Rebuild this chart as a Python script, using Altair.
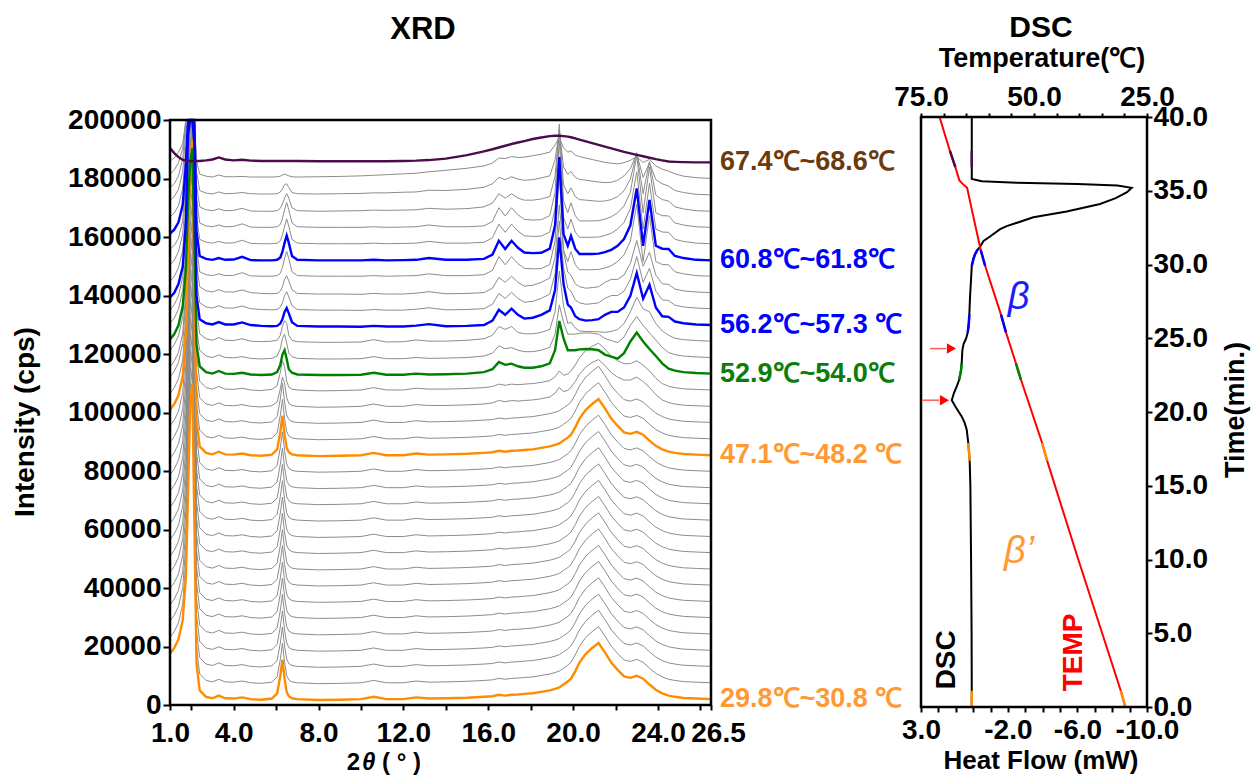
import altair as alt
import pandas as pd

FONT = "Liberation Sans"

# ---------------- XRD data (2theta grid, profiles in k cps above each scan's baseline) -------------
TWO_THETA = [1.0, 1.2, 1.4, 1.6, 1.75, 1.85, 1.95, 2.05, 2.15, 2.25,
             2.4, 2.7, 3.0, 3.3, 3.6, 4.0, 4.4, 4.8, 5.3, 5.8,
             6.05, 6.2, 6.3, 6.4, 6.5, 6.6, 6.75, 7.0, 8.0, 9.0,
             10.0, 10.6, 11.2, 12.0, 12.6, 13.2, 14.0, 15.0, 15.8, 16.2,
             16.5, 16.8, 17.1, 17.4, 17.7, 18.1, 18.5, 18.9, 19.15, 19.35,
             19.55, 19.75, 19.9, 20.1, 20.3, 20.6, 20.9, 21.2, 21.5, 21.8,
             22.1, 22.4, 22.7, 23.0, 23.3, 23.6, 23.9, 24.2, 24.5, 24.8,
             25.2, 25.8, 26.5]

PROFILE_BETA_PRIME = [
    15.5, 17.5, 20.5, 27, 42, 70, 100, 108, 60, 12,
    3, 0.8, 0.3, 1.2, 0.3, 0.2, 0.6, 0, -0.2, 0.2,
    2, 8, 13.5, 7, 2.5, 1, 0.3, 0, -0.3, -0.2,
    0, 0.8, 0, 0, 0.6, 0.2, 0.3, 0.5, 0.8, 1.0,
    1.5, 1.2, 1.5, 1.6, 1.8, 2.0, 2.5, 3.0, 3.5, 4.0,
    5.0, 6.0, 7.0, 9.5, 12.5, 15.5, 17.5, 19.2, 16.0, 12.5,
    10.0, 7.8, 7.3, 8.0, 7.0, 5.0, 3.2, 2.0, 1.2, 0.8,
    0.4, 0.2, 0]
PROFILE_TRANSITION = [
    13.5, 15.5, 18.5, 25, 40, 70, 100, 110, 62, 12,
    3, 0.8, 0.3, 1.2, 0.3, 0.2, 0.6, 0, -0.2, 0.2,
    1.5, 6, 10, 8, 3, 1, 0.3, 0, -0.3, -0.2,
    0, 0.8, 0, 0, 0.6, 0.3, 0.3, 0.5, 0.8, 1.2,
    2.0, 1.6, 2.0, 1.8, 2.0, 2.2, 2.6, 3.2, 4.5, 6.5,
    5.0, 5.5, 6.5, 8.5, 11, 13.5, 15, 16, 14, 11.5,
    10, 9, 9, 10, 8.5, 6.5, 4, 2.2, 1.3, 0.8,
    0.4, 0.2, 0]
PROFILE_MIXED = [
    11.7, 13.5, 16.5, 23, 36, 58, 72, 77, 45, 10,
    2.5, 0.5, 0, 0.9, 0, -0.1, 0.3, -0.3, -0.5, -0.3,
    0.5, 3, 6.5, 8, 5, 1.5, 0.3, -0.3, -0.5, -0.5,
    -0.4, 0.3, -0.4, -0.4, 0, -0.3, -0.2, 0, 0.5, 1.5,
    4.0, 3.0, 3.4, 2.5, 2.0, 2.0, 2.5, 3.5, 8, 18,
    12, 8, 8, 8, 8.3, 8.4, 8.3, 8.0, 6.5, 5.8,
    5.1, 7, 11, 14, 11, 8.4, 6, 3.5, 1.7, 1.0,
    0.5, 0.2, 0]
PROFILE_MID = [
    10.5, 12.5, 15.5, 22, 37, 65, 95, 105, 60, 11,
    2.5, 0.8, 0.3, 1.2, 0.3, 0.2, 0.8, 0, -0.2, 0,
    0.3, 2, 5, 7, 6, 2, 0.3, -0.2, -0.4, -0.4,
    -0.3, 0.5, -0.3, -0.2, 0.4, 0, 0, 0.3, 0.8, 2,
    5, 4, 5, 3, 2.5, 2.5, 3, 4, 10, 24,
    12, 6, 6.5, 4.5, 3.5, 3.3, 3.3, 3.2, 3, 3.3,
    4, 6, 10, 15, 11, 10, 6, 3.5, 2, 1,
    0.5, 0.2, 0]
PROFILE_BETA_A = [
    9.4, 11, 14, 20, 35, 65, 95, 110, 62, 10,
    2, 0.6, 0.2, 1.0, 0.2, 0.2, 0.9, 0, -0.3, -0.4,
    -0.3, 0.5, 2, 4.5, 5.8, 4, 1, -0.3, -0.5, -0.5,
    -0.6, -0.3, -0.5, -0.5, -0.2, 0.3, -0.4, -0.3, 0, 1.5,
    5.2, 3.5, 5.6, 3.5, 2.2, 2.5, 3.5, 5, 12, 30,
    14, 7, 6, 3, 2, 1.5, 1.7, 2, 3.5, 4.5,
    4.5, 6, 10, 17.8, 9, 13.8, 6, 3, 2.8, 1.2,
    0.6, 0.2, 0]
PROFILE_BETA_B = [
    9.2, 10.5, 13, 19, 33, 62, 92, 110, 62, 10,
    1.5, 0.5, 0.2, 0.8, 0.2, 0.3, 1.2, 0.1, 0, 0,
    0.2, 1, 3, 6, 8.5, 6, 1.5, 0.2, 0, 0,
    0, 0.2, 0, 0.1, 0.2, 0.8, 0.2, 0.2, 0.5, 2,
    6.7, 3.9, 6.7, 4.3, 2.7, 2.5, 2.6, 4, 12, 35.3,
    9, 5, 8.4, 4, 2.2, 2.2, 2.2, 2.3, 2.8, 3.6,
    5, 7.3, 12, 24.6, 5, 20.7, 5, 4, 3.9, 1.5,
    0.8, 0.2, 0]
PROFILE_BETA_C = [
    8, 9.5, 12, 18, 32, 60, 90, 110, 60, 9,
    1.5, 0.5, 0.2, 0.8, 0.2, 0.3, 1, 0.1, 0, 0,
    0.2, 1, 2.5, 4.5, 6, 4.5, 1.2, 0.2, 0, 0.1,
    0.2, 0.4, 0.3, 0.4, 0.5, 1.0, 0.7, 0.9, 1.5, 2.8,
    6, 4.5, 6, 4.5, 3.8, 3.8, 4.2, 5, 12, 28,
    9, 6, 8, 5, 4, 3.8, 3.6, 3.4, 3.5, 4,
    5, 7, 11, 20, 6, 17, 5.5, 4, 3.5, 1.5,
    0.8, 0.2, 0]
PROFILE_BETA_D = [
    7, 8.5, 11, 16, 28, 52, 80, 95, 52, 8,
    1.5, 0.6, 0.3, 1.0, 0.4, 0.5, 0.8, 0.4, 0.3, 0.3,
    0.4, 1, 2, 3.5, 3.8, 2.5, 0.8, 0.4, 0.3, 0.4,
    0.5, 0.7, 0.7, 0.9, 1.0, 1.6, 1.5, 1.9, 2.6, 3.8,
    6, 5.2, 6.2, 5.4, 5, 5.2, 5.8, 6.5, 12, 22,
    9.5, 7, 8, 6, 5.3, 5, 4.7, 4.4, 4.2, 4.3,
    5, 6.5, 9, 14, 6, 11, 5.2, 3.8, 3, 1.5,
    0.8, 0.2, 0]
PROFILE_BETA_E = [
    6, 7, 9, 12, 20, 38, 60, 72, 40, 6,
    1.5, 0.8, 0.5, 1.2, 0.6, 0.6, 0.7, 0.5, 0.5, 0.5,
    0.6, 0.8, 1.2, 1.5, 1.2, 0.9, 0.6, 0.5, 0.6, 0.7,
    0.9, 1.1, 1.3, 1.6, 1.8, 2.3, 2.8, 3.5, 4.3, 5.3,
    7, 6.8, 7.5, 7.2, 7.3, 7.8, 8.3, 9, 11.5, 14,
    10.5, 9, 9.5, 8, 7.5, 7, 6.5, 6, 5.5, 5.2,
    5, 5.4, 6.2, 7.5, 5.5, 6.5, 4.3, 3.2, 2.5, 1.6,
    0.8, 0.3, 0]
PROFILE_MELT = [
    4.9, 3.2, 1.8, 0.9, 0.6, 0.5, 0.5, 0.5, 0.5, 0.5,
    0.5, 0.7, 1.0, 1.7, 1.0, 0.7, 0.9, 0.6, 0.5, 0.5,
    0.5, 0.5, 0.5, 0.5, 0.5, 0.5, 0.5, 0.5, 0.4, 0.4,
    0.4, 0.4, 0.4, 0.5, 0.6, 0.8, 1.3, 2.5, 3.8, 4.5,
    5.1, 5.7, 6.3, 6.8, 7.3, 8, 8.5, 9, 9.1, 9.1,
    9, 8.8, 8.6, 8.2, 7.8, 7.2, 6.6, 6, 5.4, 4.8,
    4.2, 3.6, 3.1, 2.6, 2.1, 1.6, 1.1, 0.7, 0.3, 0.2,
    0.1, 0, 0]

PROFILES = {
    "beta_prime": PROFILE_BETA_PRIME, "transition": PROFILE_TRANSITION, "mixed": PROFILE_MIXED,
    "mid": PROFILE_MID, "beta_a": PROFILE_BETA_A, "beta_b": PROFILE_BETA_B, "beta_c": PROFILE_BETA_C,
    "beta_d": PROFILE_BETA_D, "beta_e": PROFILE_BETA_E, "melt": PROFILE_MELT,
}
for _k, _v in PROFILES.items():
    assert len(_v) == len(TWO_THETA), (_k, len(_v))

# baseline (k cps) of each of the 34 stacked scans, bottom to top
BASELINE_K = [2.0, 7.6, 13.2, 18.7, 24.3, 29.9, 35.4, 41.0, 46.5, 52.1,
              57.6, 63.2, 68.8, 74.3, 79.9, 85.4, 91.0, 96.6, 102.1, 107.7,
              113.3, 118.8, 124.4, 129.9, 135.5, 141.0, 146.6, 152.0, 157.7, 163.3,
              168.8, 174.4, 180.0, 185.5]
SCAN_PROFILE = (["beta_prime"] * 18 + ["transition"] * 2 + ["mixed"] * 2 + ["mid"]
                + ["beta_a"] * 3 + ["beta_b"] * 4 + ["beta_c", "beta_d", "beta_e", "melt"])
assert len(SCAN_PROFILE) == len(BASELINE_K)

ORANGE, GREEN, BLUE, PURPLE = "#FF8C00", "#008000", "#0000FF", "#4B0C4B"
HIGHLIGHT = {0: ORANGE, 15: ORANGE, 20: GREEN, 23: BLUE, 27: BLUE, 33: PURPLE}

LABEL_SCANS = [33, 27, 23, 20, 15, 0]
LABEL_TEXT = ["67.4℃~68.6℃", "60.8℃~61.8℃", "56.2℃~57.3 ℃", "52.9℃~54.0℃", "47.1℃~48.2 ℃", "29.8℃~30.8 ℃"]
LABEL_COLOR = ["#6B3A0C", "#0000FF", "#0000FF", "#0A7D0A", "#FF9933", "#FF9933"]

# ---------------- DSC data -----------------
DSC_TIME = [0.0, 1.1, 5.0, 10.0, 15.0, 16.7, 17.9, 18.8, 19.3, 19.7,
            20.1, 20.4, 20.8, 21.3, 21.8, 22.2, 22.8, 23.3, 24.2, 24.6,
            25.0, 25.4, 26.0, 26.6, 27.8, 29.0, 29.9, 30.4, 30.7, 31.0,
            31.2, 31.6, 31.9, 32.4, 32.6, 32.9, 33.2, 33.6, 34.1, 34.5,
            34.9, 35.2, 35.35, 35.45, 35.55, 35.65, 35.8, 36.6, 37.7, 40.0]
DSC_HEAT_FLOW = [0.08, 0.08, 0.09, 0.12, 0.16, 0.20, 0.28, 0.37, 0.50, 0.66,
                 0.88, 1.04, 1.23, 1.10, 0.92, 0.80, 0.70, 0.66, 0.62, 0.55,
                 0.40, 0.31, 0.25, 0.22, 0.18, 0.12, 0.08, -0.02, -0.11, -0.25,
                 -0.39, -0.60, -0.97, -1.55, -1.93, -2.70, -3.46, -5.38, -7.30, -8.20,
                 -8.85, -9.12, -8.30, -6.00, -2.50, -0.50, 0.08, 0.08, 0.08, 0.08]
TEMP_TIME = [0.0, 1.1, 10.0, 16.7, 17.9, 22.2, 23.3, 25.4, 26.6, 29.9,
             31.0, 31.7, 33.5, 35.2, 35.5, 35.7, 36.6, 37.7, 40.0]
TEMP_C = [29.8, 30.8, 40.2, 47.1, 48.2, 52.9, 54.0, 56.2, 57.3, 60.8,
          61.8, 62.3, 63.6, 64.8, 65.9, 66.5, 67.4, 68.6, 70.9]
SEGMENTS = [(0.0, 1.1, ORANGE), (16.7, 17.9, ORANGE), (22.2, 23.3, GREEN),
            (25.4, 26.6, BLUE), (29.9, 31.0, BLUE), (36.6, 37.7, PURPLE)]

# ---------------- tables -----------------
rows = []
for i, (base, prof) in enumerate(zip(BASELINE_K, SCAN_PROFILE)):
    for x, v in zip(TWO_THETA, PROFILES[prof]):
        rows.append({"scan": i, "tt": x, "cps": (base + v) * 1000.0, "col": HIGHLIGHT.get(i, "gray")})
xrd = pd.DataFrame(rows)
xrd_gray = xrd[xrd["col"] == "gray"]
xrd_hl = xrd[xrd["col"] != "gray"]

xrd_labels = pd.DataFrame({
    "tt": [26.5] * len(LABEL_SCANS),
    "cps": [BASELINE_K[i] * 1000.0 for i in LABEL_SCANS],
    "text": LABEL_TEXT, "col": LABEL_COLOR})

dsc = pd.DataFrame({"t": DSC_TIME, "hf": DSC_HEAT_FLOW})
temp = pd.DataFrame({"t": TEMP_TIME, "T": TEMP_C})
dsc_seg_rows, temp_seg_rows = [], []
for k, (a, b, c) in enumerate(SEGMENTS):
    for t, h in zip(DSC_TIME, DSC_HEAT_FLOW):
        if a <= t <= b:
            dsc_seg_rows.append({"seg": k, "t": t, "hf": h, "col": c})
    for t, T in zip(TEMP_TIME, TEMP_C):
        if a <= t <= b:
            temp_seg_rows.append({"seg": k, "t": t, "T": T, "col": c})
dsc_seg = pd.DataFrame(dsc_seg_rows)
temp_seg = pd.DataFrame(temp_seg_rows)

# ---------------- geometry (chart coordinates, page offset 8px) -----------------
W, H = 1244, 767
XS = alt.Scale(domain=[1, 26.5], range=[162, 703], nice=False, zero=False)
YS = alt.Scale(domain=[0, 200000], range=[697, 112], nice=False, zero=False, clamp=True)
HFS = alt.Scale(domain=[-10, 3], range=[1139, 913], nice=False, zero=False)
TS = alt.Scale(domain=[0, 40], range=[699, 109], nice=False, zero=False)
TEMPS = alt.Scale(domain=[25, 75], range=[1139, 913], nice=False, zero=False)


def make_axis(orient, offset, values, tick_size, label_padding, label_expr=None, fmt=None, label_offset=None):
    kw = dict(orient=orient, offset=offset, values=values, title=None, grid=False, domain=False,
              ticks=True, tickSize=tick_size, tickWidth=2, tickColor="black",
              labelFont=FONT, labelFontSize=28, labelFontWeight="bold", labelColor="black",
              labelPadding=label_padding, labelOverlap=False, labelFlush=False, labelBound=False)
    if label_expr:
        kw["labelExpr"] = label_expr
    if fmt:
        kw["format"] = fmt
    if label_offset is not None:
        kw["labelOffset"] = label_offset
    return alt.Axis(**kw)


xrd_x_axis = make_axis("bottom", 697 - H, [1] + list(range(2, 27, 2)) + [26.5], 5, 9,
                       label_expr="(datum.value == 1 || datum.value == 26.5 || datum.value % 4 == 0) ? format(datum.value, '.1f') : ''",
                       label_offset={"condition": {"test": "datum.value == 26.5", "value": 7}, "value": 0})
xrd_y_axis = make_axis("left", -162, list(range(0, 200001, 20000)), 7, 2, fmt="d")
hf_axis = make_axis("bottom", 699 - H, list(range(-10, 4)), 5, 4,
                    label_expr="(datum.value == 3 || datum.value == -2 || datum.value == -6 || datum.value == -10) ? (datum.value < 0 ? '-' + format(-datum.value, '.1f') : format(datum.value, '.1f')) : ''")
time_axis = make_axis("right", 1139 - W, list(range(0, 41, 5)), 5, 1, fmt=".1f")
temp_axis = make_axis("top", -109, list(range(25, 76, 5)), 4, 2,
                      label_expr="datum.value % 25 == 0 ? format(datum.value, '.1f') : ''")

layers = []

# XRD gray scans
layers.append(alt.Chart(xrd_gray).mark_line(color="#8C8C8C", strokeWidth=1).encode(
    x=alt.X("tt:Q", scale=XS, axis=xrd_x_axis),
    y=alt.Y("cps:Q", scale=YS, axis=xrd_y_axis),
    detail="scan:N"))
# XRD highlighted scans
layers.append(alt.Chart(xrd_hl).mark_line(strokeWidth=2.4).encode(
    x=alt.X("tt:Q", scale=XS, axis=None),
    y=alt.Y("cps:Q", scale=YS, axis=None),
    detail="scan:N", color=alt.Color("col:N", scale=None)))
# XRD frame
xrd_frame = pd.DataFrame({"x1": [1.0], "x2": [26.5], "y1": [0.0], "y2": [200000.0]})
layers.append(alt.Chart(xrd_frame).mark_rect(filled=False, fillOpacity=0, stroke="black", strokeWidth=2.5).encode(
    x=alt.X("x1:Q", scale=XS, axis=None), x2="x2:Q",
    y=alt.Y("y1:Q", scale=YS, axis=None), y2="y2:Q"))
# XRD temperature labels
layers.append(alt.Chart(xrd_labels).mark_text(align="left", baseline="middle", dx=9, font=FONT,
                                               fontSize=27, fontWeight="bold").encode(
    x=alt.X("tt:Q", scale=XS, axis=None),
    y=alt.Y("cps:Q", scale=YS, axis=None),
    text="text:N", color=alt.Color("col:N", scale=None)))

# DSC curve
layers.append(alt.Chart(dsc).mark_line(color="black", strokeWidth=2).encode(
    x=alt.X("hf:Q", scale=HFS, axis=hf_axis),
    y=alt.Y("t:Q", scale=TS, axis=time_axis),
    order="t:Q"))
# TEMP line
layers.append(alt.Chart(temp).mark_line(color="#FF0000", strokeWidth=2).encode(
    x=alt.X("T:Q", scale=TEMPS, axis=temp_axis),
    y=alt.Y("t:Q", scale=TS, axis=None),
    order="t:Q"))
# coloured segments matching the highlighted scans
layers.append(alt.Chart(dsc_seg).mark_line(strokeWidth=2.5).encode(
    x=alt.X("hf:Q", scale=HFS, axis=None), y=alt.Y("t:Q", scale=TS, axis=None),
    order="t:Q", detail="seg:N", color=alt.Color("col:N", scale=None)))
layers.append(alt.Chart(temp_seg).mark_line(strokeWidth=2.5).encode(
    x=alt.X("T:Q", scale=TEMPS, axis=None), y=alt.Y("t:Q", scale=TS, axis=None),
    order="t:Q", detail="seg:N", color=alt.Color("col:N", scale=None)))
# DSC frame
dsc_frame = pd.DataFrame({"x1": [3.0], "x2": [-10.0], "y1": [0.0], "y2": [40.0]})
layers.append(alt.Chart(dsc_frame).mark_rect(filled=False, fillOpacity=0, stroke="black", strokeWidth=2.5).encode(
    x=alt.X("x1:Q", scale=HFS, axis=None), x2="x2:Q",
    y=alt.Y("y1:Q", scale=TS, axis=None), y2="y2:Q"))

# red arrows (shaft + head)
ARROW_T = [24.3, 20.8]
ARROW_FROM = [2.48, 2.96]
ARROW_TO = [1.55, 1.95]
ARROW_HEAD = [1.25, 1.65]
arrows = pd.DataFrame({"t": ARROW_T, "h1": ARROW_FROM, "h2": ARROW_TO, "hh": ARROW_HEAD})
layers.append(alt.Chart(arrows).mark_rule(color="#FF5A5A", strokeWidth=1.5).encode(
    x=alt.X("h1:Q", scale=HFS, axis=None), x2="h2:Q",
    y=alt.Y("t:Q", scale=TS, axis=None)))
layers.append(alt.Chart(arrows).mark_point(shape="triangle-right", filled=True, color="#FF0000",
                                           size=110, opacity=1).encode(
    x=alt.X("hh:Q", scale=HFS, axis=None), y=alt.Y("t:Q", scale=TS, axis=None)))

# phase annotations
phase = pd.DataFrame({"hf": [-2.61, -2.64], "t": [27.75, 10.5], "text": ["β", "β’"],
                      "col": ["#1A1AFF", "#FF9933"]})
layers.append(alt.Chart(phase).mark_text(font=FONT, fontStyle="italic", fontSize=38,
                                         align="center", baseline="middle").encode(
    x=alt.X("hf:Q", scale=HFS, axis=None), y=alt.Y("t:Q", scale=TS, axis=None),
    text="text:N", color=alt.Color("col:N", scale=None)))
curve_names = pd.DataFrame({"hf": [1.52, -5.8], "t": [3.2, 3.7], "text": ["DSC", "TEMP"],
                            "col": ["black", "#FF0000"]})
layers.append(alt.Chart(curve_names).mark_text(font=FONT, fontWeight="bold", fontSize=28, angle=270,
                                               align="center", baseline="middle").encode(
    x=alt.X("hf:Q", scale=HFS, axis=None), y=alt.Y("t:Q", scale=TS, axis=None),
    text="text:N", color=alt.Color("col:N", scale=None)))


# titles and axis titles
def free_text(text, x, y, size, angle=0, style="normal", baseline="middle", align="center"):
    kw = dict(font=FONT, fontWeight="bold", fontSize=size, align=align, baseline=baseline,
              fontStyle=style, color="black")
    if angle:
        kw["angle"] = angle
    return alt.Chart(pd.DataFrame({"s": [text]})).mark_text(**kw).encode(
        x=alt.value(x), y=alt.value(y), text="s:N")


layers += [
    free_text("XRD", 415, 22, 31),
    free_text("DSC", 1033, 20, 30),
    free_text("Temperature(℃)", 1034, 51, 27),
    free_text("Intensity  (cps)", 18, 414, 28, angle=270),
    free_text("Time(min.)", 1228, 402, 27, angle=270),
    free_text("Heat Flow (mW)", 1033, 761, 26, baseline="alphabetic"),
    free_text("2", 352, 762, 24, baseline="alphabetic", align="right"),
    free_text("θ", 354, 762, 24, style="italic", baseline="alphabetic", align="left"),
    free_text("( ° )", 374, 762, 24, baseline="alphabetic", align="left"),
]

chart = alt.layer(*layers).resolve_scale(x="independent", y="independent").properties(
    width=W, height=H, autosize=alt.AutoSizeParams(type="none"), padding=0, background="white"
).configure_view(stroke=None)

chart.save("out.html", embed_options={"renderer": "svg", "actions": False})
